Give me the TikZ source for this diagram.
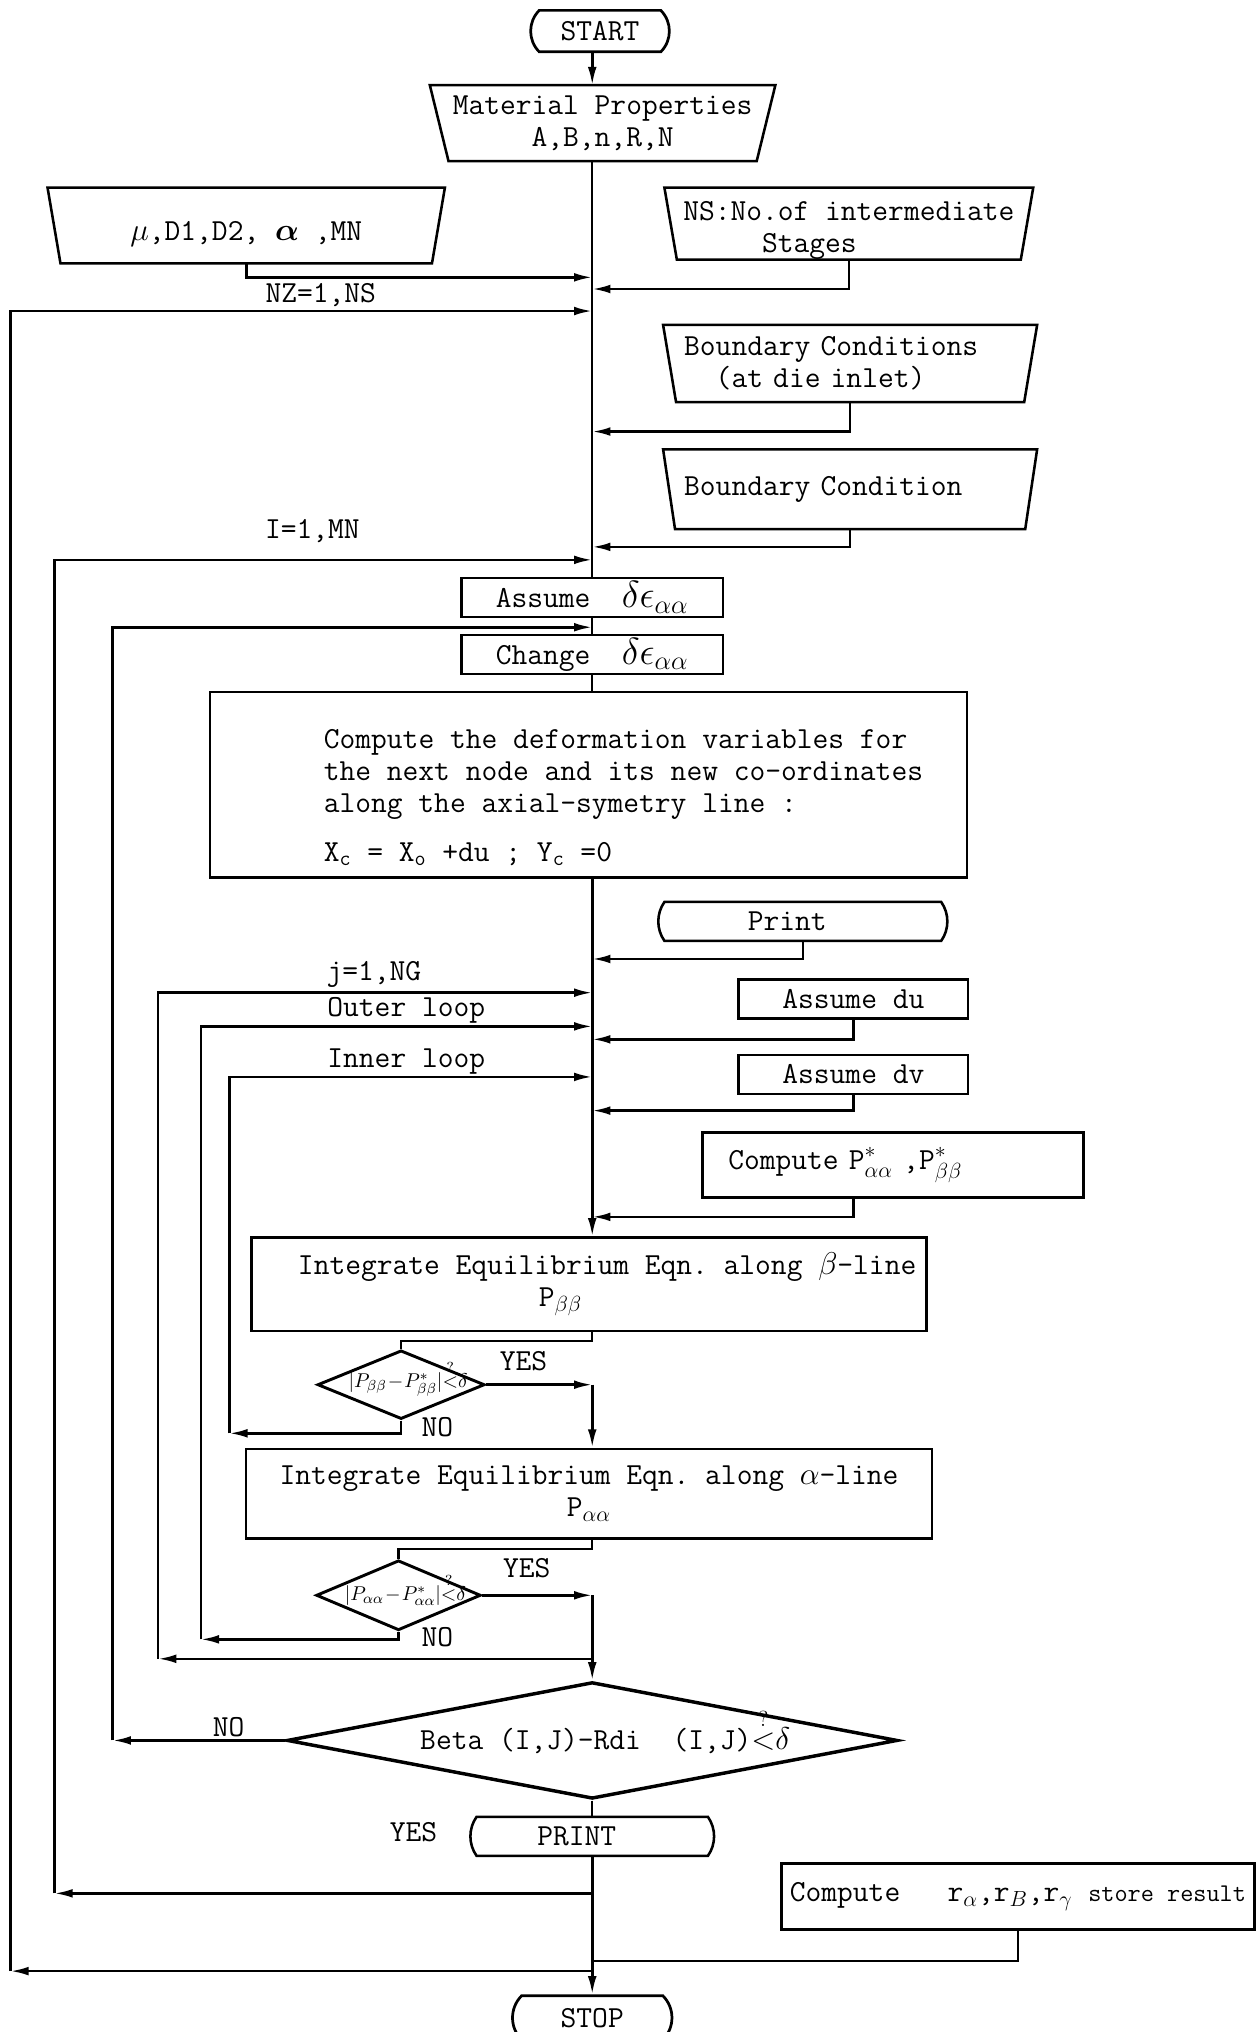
\documentclass[tikz,border=0pt]{standalone}
\usepackage{amsmath}
\usetikzlibrary{arrows.meta,shapes.geometric,shapes.misc}

\begin{document}
\begin{tikzpicture}[x=0.025cm, y=-0.025cm,
    font=\fontsize{16.8}{17.5}\selectfont\ttfamily\frenchspacing,
    box/.style={rectangle, draw, line width=1.4pt, inner sep=0pt, align=center},
    io/.style={rectangle, inner sep=0pt, align=center,
      append after command={\pgfextra{\draw[line width=1.4pt] (\tikzlastnode.north west) -- (\tikzlastnode.north east) -- ([xshift=-#1]\tikzlastnode.south east) -- ([xshift=#1]\tikzlastnode.south west) -- cycle;}}},
    io/.default=0.25cm,
    term/.style={rounded rectangle, rounded rectangle arc length=90, draw, line width=1.5pt, inner sep=0pt},
    tape/.style={rounded rectangle, rounded rectangle arc length=70, draw, line width=1.4pt, inner sep=0pt},
    test/.style={diamond, draw, line width=1.6pt, inner sep=0pt},
    lbl/.style={inner sep=0pt},
    flow/.style={line width=1.2pt},
    arrow/.style={-{Latex[length=10pt,width=4.8pt]}, line width=1.4pt}
  ]
    \useasboundingbox (0,0) rectangle (972,1568);

    % main column
    \node[term, minimum width=2.675cm, minimum height=0.8cm] (start) at (463,24) {START};
    \node[io=0.36cm, minimum width=6.65cm, minimum height=1.45cm] (mat) at (465,95) {Material Properties\\A,B,n,R,N};
    \node[box, minimum width=5.05cm, minimum height=0.75cm] (assume) at (457,461) {Assume\ \ {\fontsize{22}{22}\selectfont$\delta\epsilon_{\alpha\alpha}$}};
    \node[box, minimum width=5.05cm, minimum height=0.75cm] (change) at (457,505) {Change\ \ {\fontsize{22}{22}\selectfont$\delta\epsilon_{\alpha\alpha}$}};
    \node[box, minimum width=14.6cm, minimum height=3.575cm] (cmpv) at (454,605.5) {\hspace*{2.1cm}\raisebox{-0.25cm}[\height][\depth]{\parbox{12.3cm}{Compute the deformation variables for\\the next node and its new co-ordinates\\along the axial-symetry line :\\[0.33cm]X\textsubscript{c} = X\textsubscript{o} +du ; Y\textsubscript{c} =0}}};
    \node[box, minimum width=13.025cm, minimum height=1.8cm] (intb) at (454.5,991) {\hspace*{0.7cm}Integrate Equilibrium Eqn. along $\beta$-line\\P$_{\beta\beta}$\hspace*{1.1cm}};
    \node[test, minimum width=3.225cm, minimum height=1.325cm] (dia1) at (309.5,1068.5) {\makebox[0pt]{\fontsize{11}{13}\selectfont\hspace*{0.27cm}$|P_{\beta\beta}\!-\!P^*_{\beta\beta}|\smash{\overset{?}{<}}\delta$}};
    \node[box, minimum width=13.225cm, minimum height=1.725cm] (inta) at (454.5,1152.5) {Integrate Equilibrium Eqn. along $\alpha$-line\\P$_{\alpha\alpha}$};
    \node[test, minimum width=3.175cm, minimum height=1.35cm] (dia2) at (307.5,1231) {\makebox[0pt]{\fontsize{11}{13}\selectfont\hspace*{0.27cm}$|P_{\alpha\alpha}\!-\!P^*_{\alpha\alpha}|\smash{\overset{?}{<}}\delta$}};
    \node[test, minimum width=11.775cm, minimum height=2.25cm, line width=1.9pt] (beta) at (457,1343) {\makebox[0pt]{\hspace*{0.5cm}Beta (I,J)-Rdi\ \ (I,J)$\smash{\overset{?}{<}}\delta$}};
    \node[tape, minimum width=4.7cm, minimum height=0.75cm] (prnt) at (457,1417) {PRINT\hspace*{0.6cm}};
    \node[term, minimum width=3.075cm, minimum height=0.85cm] (stop) at (457,1557) {STOP};

    % input blocks
    \node[io, minimum width=7.65cm, minimum height=1.45cm] (mu) at (190,174) {\raisebox{-0.17cm}[\height][\depth]{$\mu$,D1,D2, $\boldsymbol{\alpha}$ ,MN}};
    \node[io=0.24cm, minimum width=7.1cm, minimum height=1.375cm] (ns) at (655,172.5) {\raisebox{-0.13cm}[\height][\depth]{\begin{tabular}{@{}l@{}}NS:No.of intermediate\\\phantom{NS:No}Stages\end{tabular}}};
    \node[io, minimum width=7.2cm, minimum height=1.475cm, align=left, text width=6.4cm] (bc1) at (656,280.5) {Boundary Conditions\\\phantom{xx}(at die inlet)};
    \node[io=0.23cm, minimum width=7.2cm, minimum height=1.525cm, align=left, text width=6.4cm] (bc2) at (656,377.5) {Boundary Condition};

    % side blocks
    \node[tape, minimum width=5.575cm, minimum height=0.75cm] (prt) at (619.5,711) {Print\hspace*{0.6cm}};
    \node[box, minimum width=4.425cm, minimum height=0.75cm] (adu) at (658.5,771) {Assume du};
    \node[box, minimum width=4.425cm, minimum height=0.75cm] (adv) at (658.5,829) {Assume dv};
    \node[box, minimum width=7.35cm, minimum height=1.25cm, align=left, text width=6.35cm] (cpp) at (689,899) {Compute P$^*_{\alpha\alpha}$ ,P$^*_{\beta\beta}$};
    \node[box, minimum width=9.125cm, minimum height=1.275cm] (cr) at (785.5,1463.5) {Compute\ \ \ r$_\alpha$,r$_B$,r$_\gamma$ {\fontsize{14}{16}\selectfont store result}};

    % labels
    \node[lbl] (lnz) at (247.5,228) {NZ=1,NS};
    \node[lbl] (li) at (241,410) {I=1,MN};
    \node[lbl] (lj) at (288.5,752) {j=1,NG};
    \node[lbl] (lout) at (313.5,780) {Outer loop};
    \node[lbl] (lin) at (313.5,819) {Inner loop};
    \node[lbl] (lyes1) at (404,1050) {YES};
    \node[lbl] (lno1) at (337.5,1101) {NO};
    \node[lbl] (lyes2) at (406.5,1210) {YES};
    \node[lbl] (lno2) at (337.5,1263) {NO};
    \node[lbl] (lno3) at (176.5,1333) {NO};
    \node[lbl] (lyes3) at (319,1414) {YES};

    % junctions on the main line
    \coordinate (jmu) at (457,214);
    \coordinate (jns) at (457,223);
    \coordinate (jnz) at (457,240);
    \coordinate (jbc1) at (457,333);
    \coordinate (jbc2) at (457,422);
    \coordinate (ji) at (457,432);
    \coordinate (jde) at (457,484);
    \coordinate (jpr) at (457,740);
    \coordinate (jj) at (457,766);
    \coordinate (jout) at (457,792);
    \coordinate (jdu) at (457,802);
    \coordinate (jin) at (457,831);
    \coordinate (jdv) at (457,857);
    \coordinate (jcp) at (457,939);
    \coordinate (b1) at (457,1035);
    \coordinate (b2) at (457,1195);
    \coordinate (jjr) at (457,1280);
    \coordinate (jir) at (457,1461);
    \coordinate (jcr) at (457,1513);
    \coordinate (jnzr) at (457,1521);
    % loop corners
    \coordinate (cnz) at (8,1521);
    \coordinate (ci) at (42,1461);
    \coordinate (cde) at (87,1343);
    \coordinate (cj) at (122,1280);
    \coordinate (cout) at (155,1265);
    \coordinate (cin) at (177,1106);

    % main line
    \draw[arrow] (start.south -| assume.north) -- (mat.north -| assume.north);
    \draw[flow] (mat.south -| assume.north) -- (assume.north);
    \draw[flow] (assume) -- (change);
    \draw[flow] (change.south) -- (change.south |- cmpv.north);
    \draw[arrow] (cmpv.south -| change.south) -- (intb.north -| change.south);
    \draw[flow] (intb.south -| change.south) -- (b1) -| (dia1.north);
    \draw[arrow] (dia1.east) -- (dia1.east -| change.south);
    \draw[arrow] (dia1.east -| change.south) -- (inta.north -| change.south);
    \draw[flow] (inta.south -| change.south) -- (b2) -| (dia2.north);
    \draw[arrow] (dia2.east) -- (dia2.east -| change.south);
    \draw[arrow] (dia2.east -| change.south) -- (beta.north);
    \draw[flow] (beta.south) -- (prnt.north);
    \draw[arrow] (prnt.south) -- (stop.north);

    % inputs joining the main line
    \draw[arrow] (mu.south) |- (jmu);
    \draw[arrow] (ns.south) |- (jns);
    \draw[arrow] (bc1.south) |- (jbc1);
    \draw[arrow] (bc2.south) |- (jbc2);
    \draw[arrow] (prt.south) |- (jpr);
    \draw[arrow] (adu.south) |- (jdu);
    \draw[arrow] (adv.south) |- (jdv);
    \draw[arrow] (cpp.south -| adv.south) |- (jcp);
    \draw[flow] (cr.south) |- (jcr);

    % loops
    \draw[arrow] (jnzr) -- (cnz);
    \draw[arrow] (cnz) |- (jnz);
    \draw[arrow] (jir) -- (ci);
    \draw[arrow] (ci) |- (ji);
    \draw[arrow] (beta.west) -- (cde);
    \draw[arrow] (cde) |- (jde);
    \draw[arrow] (jjr) -- (cj);
    \draw[arrow] (cj) |- (jj);
    \draw[arrow] (dia2.south) |- (cout);
    \draw[arrow] (cout) |- (jout);
    \draw[arrow] (dia1.south) |- (cin);
    \draw[arrow] (cin) |- (jin);
  \end{tikzpicture}
\end{document}
